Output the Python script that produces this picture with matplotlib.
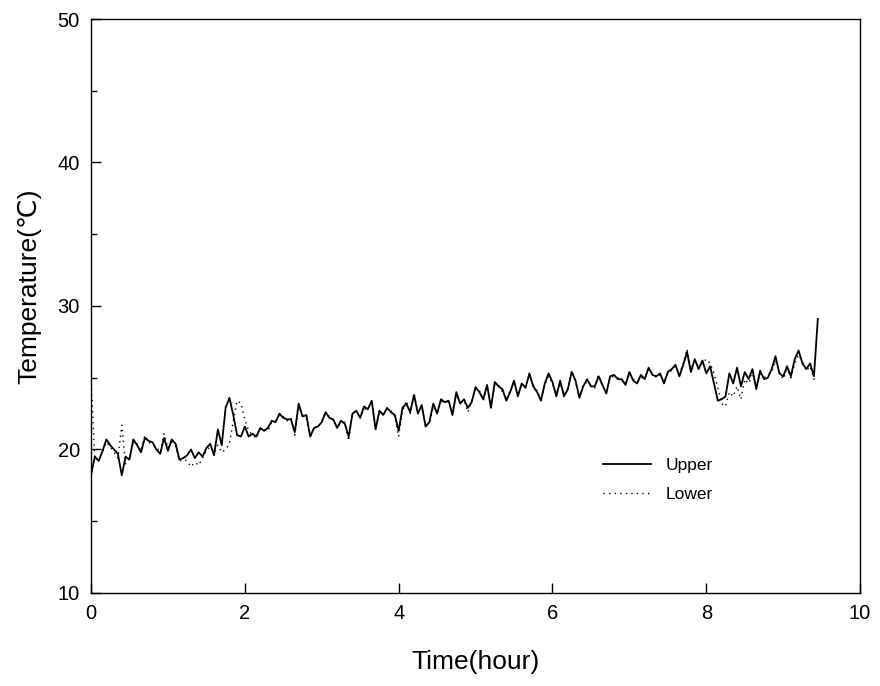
import matplotlib
matplotlib.use("Agg")
import matplotlib.pyplot as plt
from matplotlib.ticker import MultipleLocator
import numpy as np

# time axis: one reading every 3 minutes (0.05 h), 0 .. 9.45 h
time_h = np.arange(190) * 0.05

upper = [
    18.2, 19.5, 19.2, 19.9, 20.7, 20.3, 20.0, 19.7, 18.2, 19.5,
    19.3, 20.7, 20.3, 19.8, 20.8, 20.6, 20.5, 20.0, 19.7, 20.8,
    19.9, 20.7, 20.4, 19.3, 19.4, 19.6, 20.0, 19.4, 19.8, 19.5,
    20.1, 20.4, 19.6, 21.4, 20.3, 22.9, 23.6, 22.4, 21.0, 20.9,
    21.6, 20.9, 21.1, 20.9, 21.5, 21.3, 21.5, 22.0, 21.9, 22.5,
    22.2, 22.1, 22.1, 21.2, 23.2, 22.3, 22.4, 20.9, 21.5, 21.6,
    21.9, 22.6, 22.2, 22.1, 21.5, 22.0, 21.8, 20.9, 22.5, 22.7,
    22.2, 23.0, 22.8, 23.4, 21.4, 22.7, 22.4, 22.9, 22.6, 22.4,
    21.3, 22.9, 23.2, 22.6, 23.8, 22.5, 23.1, 21.6, 21.9, 23.2,
    22.5, 23.5, 23.3, 23.4, 22.4, 24.0, 23.2, 23.5, 22.9, 23.3,
    24.35, 24.0, 23.5, 24.5, 22.9, 24.7, 24.4, 24.2, 23.4, 24.0,
    24.8, 23.7, 24.6, 24.3, 25.3, 24.4, 24.0, 23.4, 24.6, 25.3,
    24.7, 23.7, 24.8, 23.7, 24.2, 25.4, 24.8, 23.6, 24.4, 24.9,
    24.4, 24.4, 25.1, 24.5, 23.9, 25.1, 25.2, 24.9, 24.9, 24.5,
    25.4, 24.8, 24.6, 25.2, 24.9, 25.7, 25.2, 25.1, 25.3, 24.6,
    25.4, 25.6, 25.9, 25.1, 25.9, 26.8, 25.4, 26.3, 25.6, 26.2,
    25.3, 25.8, 24.6, 23.4, 23.5, 23.7, 25.3, 24.6, 25.7, 24.4,
    25.4, 24.9, 25.6, 24.2, 25.5, 24.9, 25.0, 25.6, 26.5, 25.3,
    25.1, 25.8, 25.1, 26.3, 26.9, 26.0, 25.6, 26.0, 25.1, 29.1,
]

lower = [
    25.0, 19.3, 19.4, 19.8, 20.5, 20.2, 19.8, 19.4, 21.7, 19.0,
    19.4, 20.5, 20.4, 19.9, 21.0, 20.5, 20.3, 20.2, 19.8, 21.1,
    20.1, 20.5, 20.3, 19.2, 19.3, 19.2, 18.8, 19.1, 18.9, 19.4,
    19.9, 20.2, 19.8, 20.3, 19.8, 20.0, 20.4, 22.0, 23.4, 23.2,
    22.1, 21.3, 21.0, 20.8, 21.4, 21.4, 21.3, 21.9, 22.0, 22.4,
    22.3, 22.0, 22.2, 21.0, 23.0, 22.4, 22.2, 20.8, 21.6, 21.5,
    22.0, 22.5, 22.3, 22.0, 21.6, 21.8, 21.9, 20.6, 22.6, 22.5,
    22.3, 22.8, 22.9, 23.3, 21.5, 22.6, 22.5, 22.8, 22.7, 22.3,
    20.9, 22.7, 23.4, 22.5, 23.9, 22.6, 23.0, 21.7, 21.8, 23.0,
    22.6, 23.3, 23.4, 23.3, 22.6, 23.8, 23.3, 23.4, 22.6, 23.4,
    24.2, 24.1, 23.4, 24.4, 23.0, 24.5, 24.5, 24.0, 23.5, 24.1,
    24.6, 23.9, 24.5, 24.4, 25.1, 24.5, 24.1, 23.5, 24.5, 25.1,
    24.6, 23.9, 24.6, 23.8, 24.3, 25.5, 24.7, 23.7, 24.5, 24.7,
    24.5, 24.3, 25.2, 24.4, 24.0, 25.0, 25.1, 25.0, 24.8, 24.6,
    25.3, 24.9, 24.7, 25.0, 25.0, 25.6, 25.3, 25.0, 25.2, 24.7,
    25.3, 25.5, 25.8, 25.2, 26.0, 27.0, 25.6, 26.2, 25.8, 26.0,
    26.3, 26.0, 25.3, 24.3, 23.2, 23.0, 24.0, 23.7, 24.4, 23.5,
    24.9, 24.6, 25.2, 24.4, 25.3, 25.0, 25.2, 25.4, 26.2, 25.4,
    24.9, 25.6, 25.0, 26.0, 26.6, 26.1, 25.5, 25.8, 24.9, 25.0,
]

plt.rcParams['font.family'] = ['Liberation Sans', 'DejaVu Sans']

fig = plt.figure(figsize=(8.8, 6.86), dpi=100)
ax = fig.add_axes([0.1034, 0.1356, 0.874, 0.8367])

ax.plot(time_h, upper, color='black', linewidth=1.3, label='Upper')
ax.plot(time_h, lower, color='black', linewidth=1.0, linestyle=(0, (1, 3)), label='Lower')

ax.set_xlim(0, 10)
ax.set_ylim(10, 50)
ax.xaxis.set_major_locator(MultipleLocator(2))
ax.yaxis.set_major_locator(MultipleLocator(10))
ax.yaxis.set_minor_locator(MultipleLocator(5))
ax.tick_params(axis='both', which='both', direction='in', top=False, right=False,
               labelsize=14.5, width=1.0, pad=8)
ax.tick_params(axis='both', which='major', length=7)
ax.tick_params(axis='y', which='minor', length=4)

for s in ax.spines.values():
    s.set_linewidth(1.0)

ax.set_xlabel('Time(hour)', fontsize=19)
ax.set_ylabel('Temperature(\u2103)', fontsize=19)
ax.xaxis.set_label_coords(0.5, -0.1)
ax.yaxis.set_label_coords(-0.065, 0.535)

ax.legend(loc='center left', bbox_to_anchor=(0.645, 0.197), frameon=False,
          fontsize=12.5, handlelength=2.8, handletextpad=0.8, labelspacing=0.8)

fig.savefig('out.png', dpi=100)
